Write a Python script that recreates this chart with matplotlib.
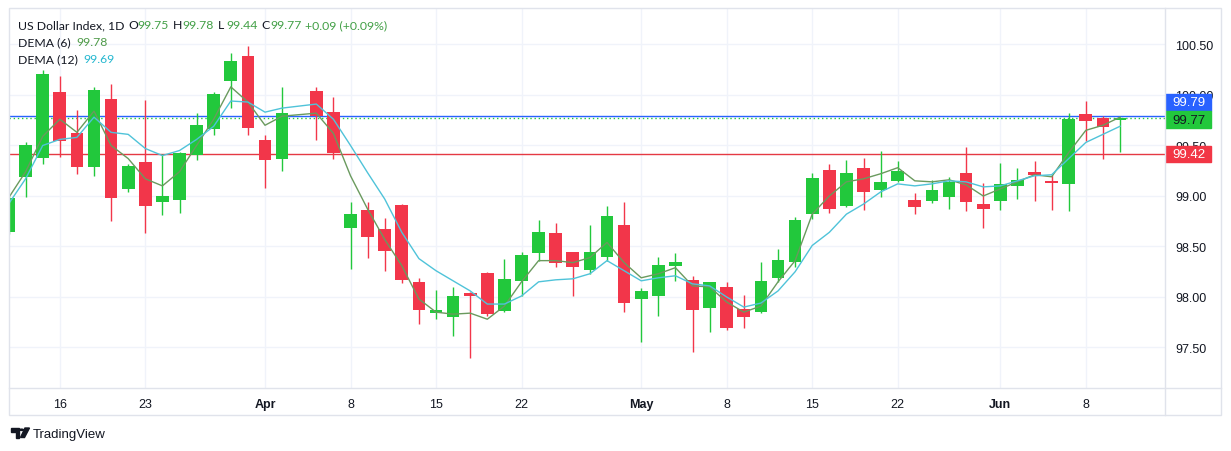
import numpy as np
import matplotlib.pyplot as plt
from matplotlib.patches import Rectangle, Polygon, Circle

plt.rcParams['font.family'] = ['Liberation Sans', 'DejaVu Sans']

# bar slots (slot 17 has no bar)
bar_x = list(range(17)) + list(range(18, 66))

opens = [98.64, 99.19, 99.38, 100.03, 99.62, 99.29, 99.96, 99.07, 99.34, 98.94,
         98.96, 99.41, 99.66, 100.14, 100.39, 99.55, 99.37,
         100.04, 99.83, 98.68, 98.86, 98.67, 98.91, 98.15, 97.84, 97.80, 98.04,
         98.24, 97.86, 98.16, 98.44, 98.63, 98.45, 98.27, 98.40, 98.71, 97.98,
         98.01, 98.31, 98.17, 97.89, 98.10, 97.88, 97.85, 98.19, 98.35, 98.82,
         99.26, 98.90, 99.28, 99.06, 99.15, 98.96, 98.95, 98.99, 99.23, 98.92,
         98.95, 99.10, 99.24, 99.15, 99.12, 99.81, 99.77, 99.75]
highs = [99.00, 99.53, 100.25, 100.19, 99.85, 100.08, 100.11, 99.32, 99.95, 99.42,
         99.44, 99.82, 100.03, 100.42, 100.48, 99.60, 100.08,
         100.08, 99.98, 98.94, 98.94, 98.78, 98.92, 98.19, 98.07, 98.10, 98.05,
         98.25, 98.38, 98.45, 98.76, 98.73, 98.45, 98.71, 98.90, 98.94, 98.09,
         98.40, 98.44, 98.21, 98.15, 98.15, 98.02, 98.35, 98.48, 98.79, 99.23,
         99.32, 99.36, 99.38, 99.45, 99.35, 99.03, 99.16, 99.19, 99.48, 99.13,
         99.33, 99.28, 99.35, 99.21, 99.82, 99.94, 99.79, 99.78]
lows = [98.62, 98.99, 99.32, 99.39, 99.22, 99.195, 98.75, 99.04, 98.63, 98.81,
        98.83, 99.36, 99.60, 99.87, 99.60, 99.08, 99.25,
        99.55, 99.37, 98.28, 98.39, 98.26, 98.14, 97.73, 97.78, 97.61, 97.40,
        97.81, 97.85, 98.01, 98.36, 98.30, 98.01, 98.23, 98.36, 97.85, 97.55,
        97.81, 98.16, 97.46, 97.65, 97.67, 97.69, 97.84, 98.15, 98.30, 98.77,
        98.83, 98.89, 98.86, 98.99, 99.14, 98.82, 98.93, 98.87, 98.85, 98.68,
        98.86, 98.97, 98.95, 98.86, 98.85, 99.54, 99.37, 99.44]
closes = [98.98, 99.50, 100.21, 99.545, 99.29, 100.05, 98.98, 99.30, 98.90, 99.00,
          99.43, 99.70, 100.01, 100.34, 99.67, 99.36, 99.82,
          99.79, 99.43, 98.82, 98.59, 98.46, 98.17, 97.87, 97.87, 98.01, 98.01,
          97.83, 98.18, 98.42, 98.64, 98.34, 98.30, 98.45, 98.80, 97.94, 98.06,
          98.32, 98.35, 97.87, 98.15, 97.69, 97.80, 98.16, 98.37, 98.76, 99.18,
          98.87, 99.23, 99.04, 99.14, 99.25, 98.89, 99.06, 99.14, 98.94, 98.87,
          99.12, 99.16, 99.21, 99.13, 99.76, 99.74, 99.68, 99.77]

dema6 = [98.98, 99.24, 99.59, 99.76, 99.63, 99.84, 99.50, 99.37, 99.17, 99.10,
         99.24, 99.50, 99.76, 100.08, 99.93, 99.70, 99.79,
         99.82, 99.62, 99.20, 98.87, 98.57, 98.31, 97.98, 97.85, 97.83, 97.84,
         97.78, 97.91, 98.15, 98.36, 98.36, 98.34, 98.39, 98.54, 98.34, 98.19,
         98.23, 98.29, 98.11, 98.10, 97.95, 97.85, 97.91, 98.15, 98.36, 98.82,
         99.00, 99.14, 99.17, 99.22, 99.28, 99.15, 99.14, 99.16, 99.11, 99.00,
         99.07, 99.14, 99.21, 99.19, 99.43, 99.65, 99.70, 99.78]
dema12 = [98.92, 99.17, 99.50, 99.56, 99.58, 99.78, 99.63, 99.61, 99.47, 99.40,
          99.45, 99.56, 99.69, 99.94, 99.93, 99.83, 99.87,
          99.91, 99.76, 99.50, 99.23, 98.97, 98.64, 98.38, 98.26, 98.16, 98.06,
          97.93, 97.93, 98.01, 98.15, 98.17, 98.18, 98.23, 98.36, 98.26, 98.16,
          98.19, 98.21, 98.13, 98.11, 98.00, 97.90, 97.94, 98.06, 98.25, 98.51,
          98.64, 98.82, 98.92, 99.04, 99.12, 99.10, 99.12, 99.15, 99.14, 99.09,
          99.10, 99.15, 99.20, 99.21, 99.37, 99.53, 99.61, 99.69]

date_pos = [3, 8, 15, 20, 25, 30, 37, 42, 47, 52, 58, 63]
date_labels = ['16', '23', 'Apr', '8', '15', '22', 'May', '8', '15', '22', 'Jun', '8']
price_ticks = [97.5, 98.0, 98.5, 99.0, 99.5, 100.0, 100.5]

line_blue = 99.79
line_red = 99.42
last_close = 99.77

W, H = 1231, 452
UP = '#22c83c'
DN = '#f2364a'
TXT = '#131722'
GRID = '#f0f3fa'
BORDER = '#e0e3eb'

fig = plt.figure(figsize=(W / 100, H / 100), dpi=100)
fig.patch.set_facecolor('white')

def fx(x):
    return x / W

def fy(y):
    return 1 - y / H

ax = fig.add_axes([fx(9), fy(389), (1165 - 9) / W, (389 - 9) / H])
ax.set_xlim(0.029, 67.63)
ax.set_ylim(97.099, 100.861)
for s in ax.spines.values():
    s.set_visible(False)

ax.set_xticks(date_pos)
ax.set_xticklabels(date_labels, fontsize=9, color=TXT)
for lab in ax.get_xticklabels():
    if lab.get_text() in ('Apr', 'May', 'Jun'):
        lab.set_fontweight('bold')
ax.set_yticks(price_ticks)
ax.set_yticklabels([f'{v:.2f}' for v in price_ticks], fontsize=9, color=TXT)
ax.yaxis.tick_right()
ax.tick_params(axis='both', length=0)
ax.tick_params(axis='x', pad=7)
ax.tick_params(axis='y', pad=7.2)
ax.grid(True, color=GRID, lw=1)
ax.set_axisbelow(True)

# horizontal lines
ax.axhline(line_blue, color='#2962ff', lw=1, zorder=1)
ax.axhline(last_close, color=UP, lw=1, ls=(0, (1, 2)), zorder=1)
ax.axhline(line_red, color='#e53943', lw=1, zorder=1)

# candles
for x, o, h, l, c in zip(bar_x, opens, highs, lows, closes):
    col = UP if c >= o else DN
    ax.vlines(x, l, h, color=col, lw=1, zorder=2)
    ax.bar(x, max(abs(c - o), 0.012), bottom=min(o, c), width=0.74, color=col, zorder=3)

# DEMA lines
ax.plot(bar_x, dema6, color='#6a9a5e', lw=1, zorder=4)
ax.plot(bar_x, dema12, color='#4fc3d9', lw=1, zorder=4)

# price label boxes on the right axis (they hide parts of 100.00 / 99.50)
ax2 = fig.add_axes([fx(1165), fy(389), 56 / W, (389 - 9) / H])
ax2.set_ylim(ax.get_ylim())
ax2.set_xlim(0, 56)
ax2.axis('off')
boxes = [(99.926, '#2962ff', 'white', f'{line_blue:.2f}'),
         (99.755, UP, TXT, f'{last_close:.2f}'),
         (99.413, '#f23645', 'white', f'{line_red:.2f}')]
for yc, fc, tc, txt in boxes:
    ax2.add_patch(Rectangle((0, yc - 0.0815), 46, 0.163, color=fc, zorder=5))
    ax2.text(23.5, yc, txt, ha='center', va='center', fontsize=9.5, color=tc, zorder=6)

# frame
fig.add_artist(Rectangle((fx(9), fy(416)), (1221 - 9) / W, (416 - 9) / H,
                         transform=fig.transFigure, fill=False, ec=BORDER, lw=1))
fig.add_artist(plt.Line2D([fx(1165), fx(1165)], [fy(9), fy(416)], color=BORDER, lw=1))
fig.add_artist(plt.Line2D([fx(9), fx(1221)], [fy(389), fy(389)], color=BORDER, lw=1))

# legend texts
def t(x, y, s, color=TXT, size=8.8, fam=('Lato', 'DejaVu Sans')):
    fig.text(fx(x), fy(y), s, color=color, fontsize=size, va='baseline', ha='left',
             family=list(fam))

GV = '#43a047'
t(18, 29.3, 'US Dollar Index, 1D')
t(128.3, 29.3, 'O'); t(137.3, 29.3, '99.75', GV)
t(173.3, 29.3, 'H'); t(182.7, 29.3, '99.78', GV)
t(218.3, 29.3, 'L'); t(226, 29.3, '99.44', GV)
t(261.7, 29.3, 'C'); t(270.7, 29.3, '99.77', GV)
t(305, 29.3, '+0.09 (+0.09%)', GV)
t(18, 46, 'DEMA (6)'); t(76, 46, '99.78', '#4e9a48')
t(18, 63.3, 'DEMA (12)'); t(83, 63.3, '99.69', '#26b8d0')

# TradingView logo
fig.add_artist(Polygon([(fx(11), fy(429)), (fx(19), fy(429)), (fx(19), fy(438.5)),
                        (fx(15.5), fy(438.5)), (fx(15.5), fy(432.5)), (fx(11), fy(432.5))],
                       closed=True, transform=fig.transFigure, color=TXT))
fig.add_artist(Circle((fx(21.6), fy(430.8)), 1.8 / W, transform=fig.transFigure, color=TXT))
fig.add_artist(Polygon([(fx(25), fy(429)), (fx(29.5), fy(429)), (fx(24.5), fy(438.5)),
                        (fx(20.5), fy(438.5))],
                       closed=True, transform=fig.transFigure, color=TXT))
t(33, 438.5, 'TradingView', TXT, 9.5, ('Liberation Sans', 'DejaVu Sans'))

fig.savefig('out.png', dpi=100)
